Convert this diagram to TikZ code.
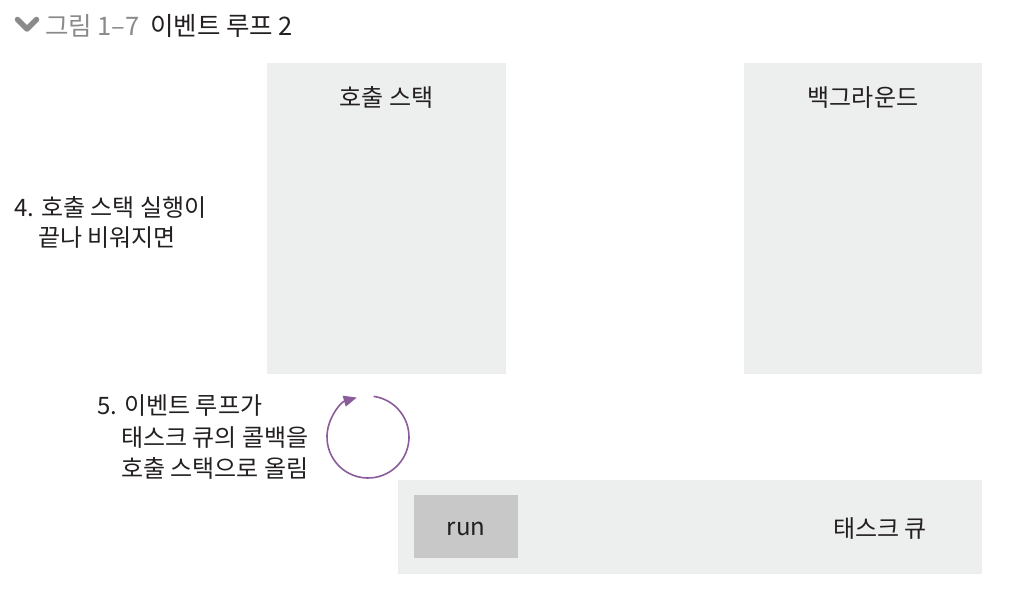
\documentclass[tikz,border=0pt]{standalone}
\usepackage{fontspec}
\setmainfont{Noto Sans CJK KR}
\usetikzlibrary{arrows.meta}
\definecolor{boxgray}{HTML}{EDEEEE}
\definecolor{rungray}{HTML}{C8C8C8}
\definecolor{loopcol}{HTML}{8A5C9A}
\definecolor{titlegray}{HTML}{8A8A8A}
\definecolor{txt}{HTML}{231F20}
\tikzset{
  panel/.style={fill=boxgray, draw=none},
  lbl/.style={font=\fontsize{24}{28}\selectfont, text=txt, inner sep=0pt},
  ttl/.style={font=\fontsize{25.5}{28}\selectfont, text=txt, inner sep=0pt},
}
\begin{document}
\begin{tikzpicture}[x=1pt,y=-1pt]
\useasboundingbox (0,0) rectangle (1010,596);
% title
\draw[titlegray, line width=5.5pt, line cap=round, line join=round] (17.5,19.5) -- (27,29) -- (36.5,19.5);
\node[ttl, anchor=base west, text=titlegray] (t1) at (45,36) {그림 1–7};
\node[ttl, anchor=base west] (t2) at (150,36) {이벤트 루프 2};
% panels
\path[panel] (267,63) rectangle (506,374);
\node[lbl, anchor=base] (cs) at (386.5,107) {호출 스택};
\path[panel] (744,63) rectangle (982,374);
\node[lbl, anchor=base] (bg) at (863,107) {백그라운드};
\path[panel] (398,480) rectangle (982,574);
\node[lbl, anchor=base] (tq) at (880,537) {태스크 큐};
\node[fill=rungray, minimum width=104pt, minimum height=63pt, inner sep=0pt] (runbox) at (466,526.5) {};
\node[lbl, anchor=base] (run) at (466,535) {run};
% notes
\node[lbl, anchor=base west] (n4a) at (14,217) {4. 호출 스택 실행이};
\node[lbl, anchor=base west] (n4b) at (38,247) {끝나 비워지면};
\node[lbl, anchor=base west] (n5a) at (97,414) {5. 이벤트 루프가};
\node[lbl, anchor=base west] (n5b) at (121,446) {태스크 큐의 콜백을};
\node[lbl, anchor=base west] (n5c) at (121,477) {호출 스택으로 올림};
% loop
\coordinate (lc) at (368,437);
\draw[loopcol, line width=1.6pt, -{Triangle[length=13pt,width=11pt]}] ([shift={(-82:41)}]lc) arc[start angle=-82, end angle=254, radius=41];
\end{tikzpicture}
\end{document}
